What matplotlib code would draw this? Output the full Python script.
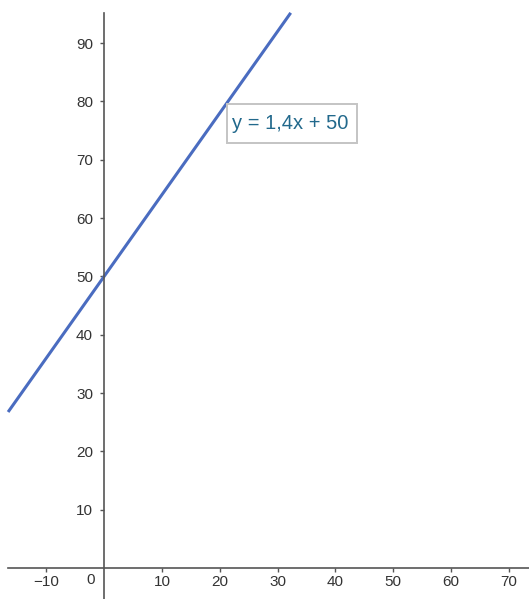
import matplotlib.pyplot as plt
from matplotlib.patches import Rectangle
import numpy as np

# line y = 1.4x + 50
slope = 1.4
intercept = 50
x_ticks = [-10, 10, 20, 30, 40, 50, 60, 70]
y_ticks = [10, 20, 30, 40, 50, 60, 70, 80, 90]
label_text = 'y = 1,4x + 50'

plt.rcParams['font.family'] = ['Liberation Sans', 'DejaVu Sans']

fig = plt.figure(figsize=(5.29, 5.99), dpi=100)
ax = fig.add_axes([0, 0, 1, 1])
ax.set_xlim(-18.0, 73.5)
ax.set_ylim(-5.3, 97.4)

axis_col = '#555555'
for s in ['top', 'right']:
    ax.spines[s].set_visible(False)
ax.spines['left'].set_position(('data', 0))
ax.spines['bottom'].set_position(('data', 0))
ax.spines['left'].set_bounds(-5.3, 95.2)
ax.spines['bottom'].set_bounds(-16.6, 73.5)
for s in ['left', 'bottom']:
    ax.spines[s].set_color(axis_col)
    ax.spines[s].set_linewidth(1.2)

ax.set_xticks(x_ticks)
ax.set_yticks(y_ticks)
ax.tick_params(axis='both', colors=axis_col, length=3, width=1, labelsize=11,
               labelcolor='#333333', direction='out')
ax.tick_params(axis='x', pad=2)
ax.tick_params(axis='y', pad=5)
ax.text(-2.4, -2.1, '0', ha='center', va='center', fontsize=11, color='#333333')

xs = np.array([-16.6, (95.2 - intercept) / slope])
ax.plot(xs, slope * xs + intercept, color='#4a6cc0', lw=2.2, solid_capstyle='butt')

# label box
ax.add_patch(Rectangle((21.3, 72.9), 22.5, 6.7, fc='white', ec='#c4c4c4', lw=1.4, zorder=3))
ax.text(22.2, 76.2, label_text, ha='left', va='center', fontsize=14.5, color='#22698c', zorder=4)

fig.savefig('out.png', dpi=100)
